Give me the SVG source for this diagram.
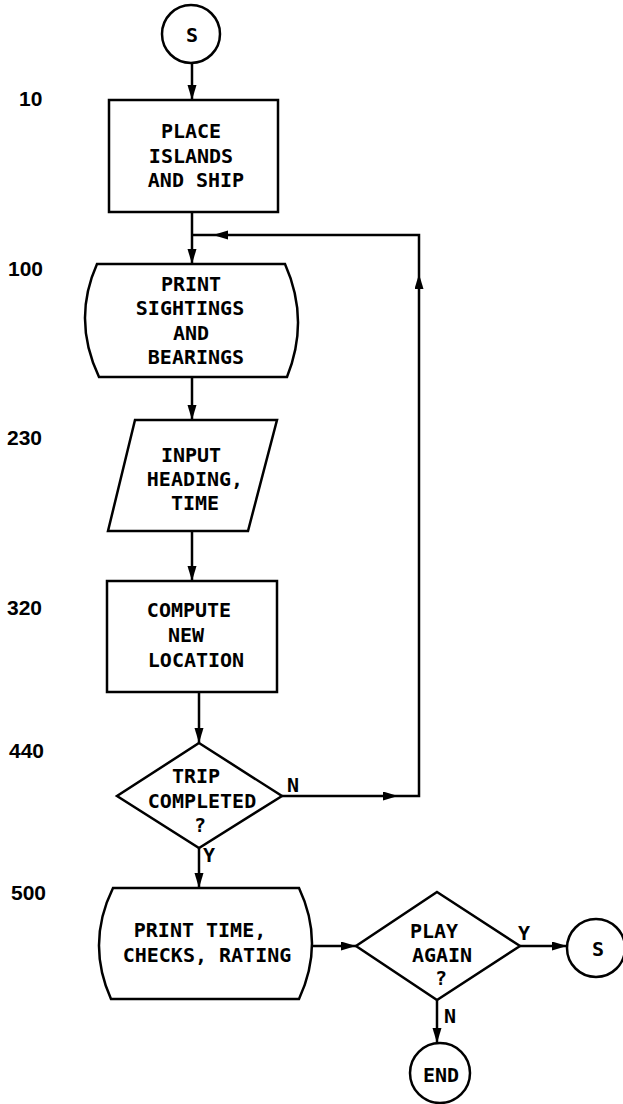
<svg xmlns="http://www.w3.org/2000/svg" width="623" height="1104" viewBox="0 0 623 1104">
<style>
.s{fill:none;stroke:#000;stroke-width:2.5;stroke-linejoin:miter}
.c{fill:none;stroke:#000;stroke-width:2.5}
text{font-family:"DejaVu Sans Mono","Liberation Mono",monospace;font-size:20px;font-weight:bold;fill:#000}
.m{text-anchor:middle}
.n{font-family:"Liberation Sans",Arial,sans-serif;font-size:21px;font-weight:bold}
</style>
<defs>
<marker id="ah" markerUnits="userSpaceOnUse" markerWidth="16" markerHeight="10" refX="15" refY="4.5" orient="auto">
<path d="M0,0 L15,4.5 L0,9 Z" fill="#000"/>
</marker>
</defs>
<rect width="623" height="1104" fill="#fff"/>
<g id="line-numbers">
<text class="n" x="19" y="106">10</text>
<text class="n" x="8" y="276">100</text>
<text class="n" x="7" y="445">230</text>
<text class="n" x="7" y="615">320</text>
<text class="n" x="9" y="758">440</text>
<text class="n" x="11" y="900">500</text>
</g>
<g id="connectors">
<path class="c" d="M192,63 L192,100" marker-end="url(#ah)"/>
<path class="c" d="M192,212 L192,264" marker-end="url(#ah)"/>
<path class="c" d="M192,377 L192,420" marker-end="url(#ah)"/>
<path class="c" d="M192,531 L192,581" marker-end="url(#ah)"/>
<path class="c" d="M199,692 L199,743" marker-end="url(#ah)"/>
<path class="c" d="M199,848 L199,888" marker-end="url(#ah)"/>
<path class="c" d="M282,796 L398,796" marker-end="url(#ah)"/>
<path class="c" d="M398,796 L419,796 L419,274" marker-end="url(#ah)"/>
<path class="c" d="M419,274 L419,235 L213,235" marker-end="url(#ah)"/>
<path class="c" d="M213,235 L192,235"/>
<path class="c" d="M312,946 L356,946" marker-end="url(#ah)"/>
<path class="c" d="M520,946 L567,946" marker-end="url(#ah)"/>
<path class="c" d="M437,1000 L437,1043" marker-end="url(#ah)"/>
<text class="m" x="293" y="792">N</text>
<text class="m" x="209" y="862">Y</text>
<text class="m" x="524" y="940">Y</text>
<text class="m" x="450" y="1023">N</text>
</g>
<g id="start">
<circle class="s" cx="191" cy="34" r="29"/>
<text class="m" x="192" y="42">S</text>
</g>
<g id="place">
<rect class="s" x="109" y="100" width="169" height="112"/>
<text class="m" x="191" y="138">PLACE</text>
<text class="m" x="191" y="163">ISLANDS</text>
<text class="m" x="196" y="187">AND SHIP</text>
</g>
<g id="print-sightings">
<path class="s" d="M97,264 L285,264 Q310,320 287,377 L99,377 Q72,320 97,264 Z"/>
<text class="m" x="191" y="291">PRINT</text>
<text class="m" x="190" y="315">SIGHTINGS</text>
<text class="m" x="191" y="340">AND</text>
<text class="m" x="196" y="364">BEARINGS</text>
</g>
<g id="input">
<path class="s" d="M135,420 L277,420 L248,531 L108,531 Z"/>
<text class="m" x="191" y="462">INPUT</text>
<text class="m" x="195" y="486">HEADING,</text>
<text class="m" x="195" y="510">TIME</text>
</g>
<g id="compute">
<rect class="s" x="107" y="581" width="170" height="111"/>
<text class="m" x="189" y="617">COMPUTE</text>
<text class="m" x="186" y="642">NEW</text>
<text class="m" x="196" y="667">LOCATION</text>
</g>
<g id="trip-completed">
<path class="s" d="M199,743 L282,796 L199,848 L117,796 Z"/>
<text class="m" x="196" y="783">TRIP</text>
<text class="m" x="202" y="808">COMPLETED</text>
<text class="m" x="200" y="832">?</text>
</g>
<g id="print-time">
<path class="s" d="M113,888 L299,888 Q325,943 299,999 L111,999 Q86,943 113,888 Z"/>
<text class="m" x="200" y="937">PRINT TIME,</text>
<text class="m" x="207" y="962">CHECKS, RATING</text>
</g>
<g id="play-again">
<path class="s" d="M437,892 L520,946 L437,1000 L356,946 Z"/>
<text class="m" x="434" y="938">PLAY</text>
<text class="m" x="442" y="962">AGAIN</text>
<text class="m" x="441" y="985">?</text>
</g>
<g id="restart">
<circle class="s" cx="596" cy="948" r="29"/>
<text class="m" x="598" y="956">S</text>
</g>
<g id="end">
<circle class="s" cx="440" cy="1073" r="30"/>
<text class="m" x="441" y="1082">END</text>
</g>
</svg>
